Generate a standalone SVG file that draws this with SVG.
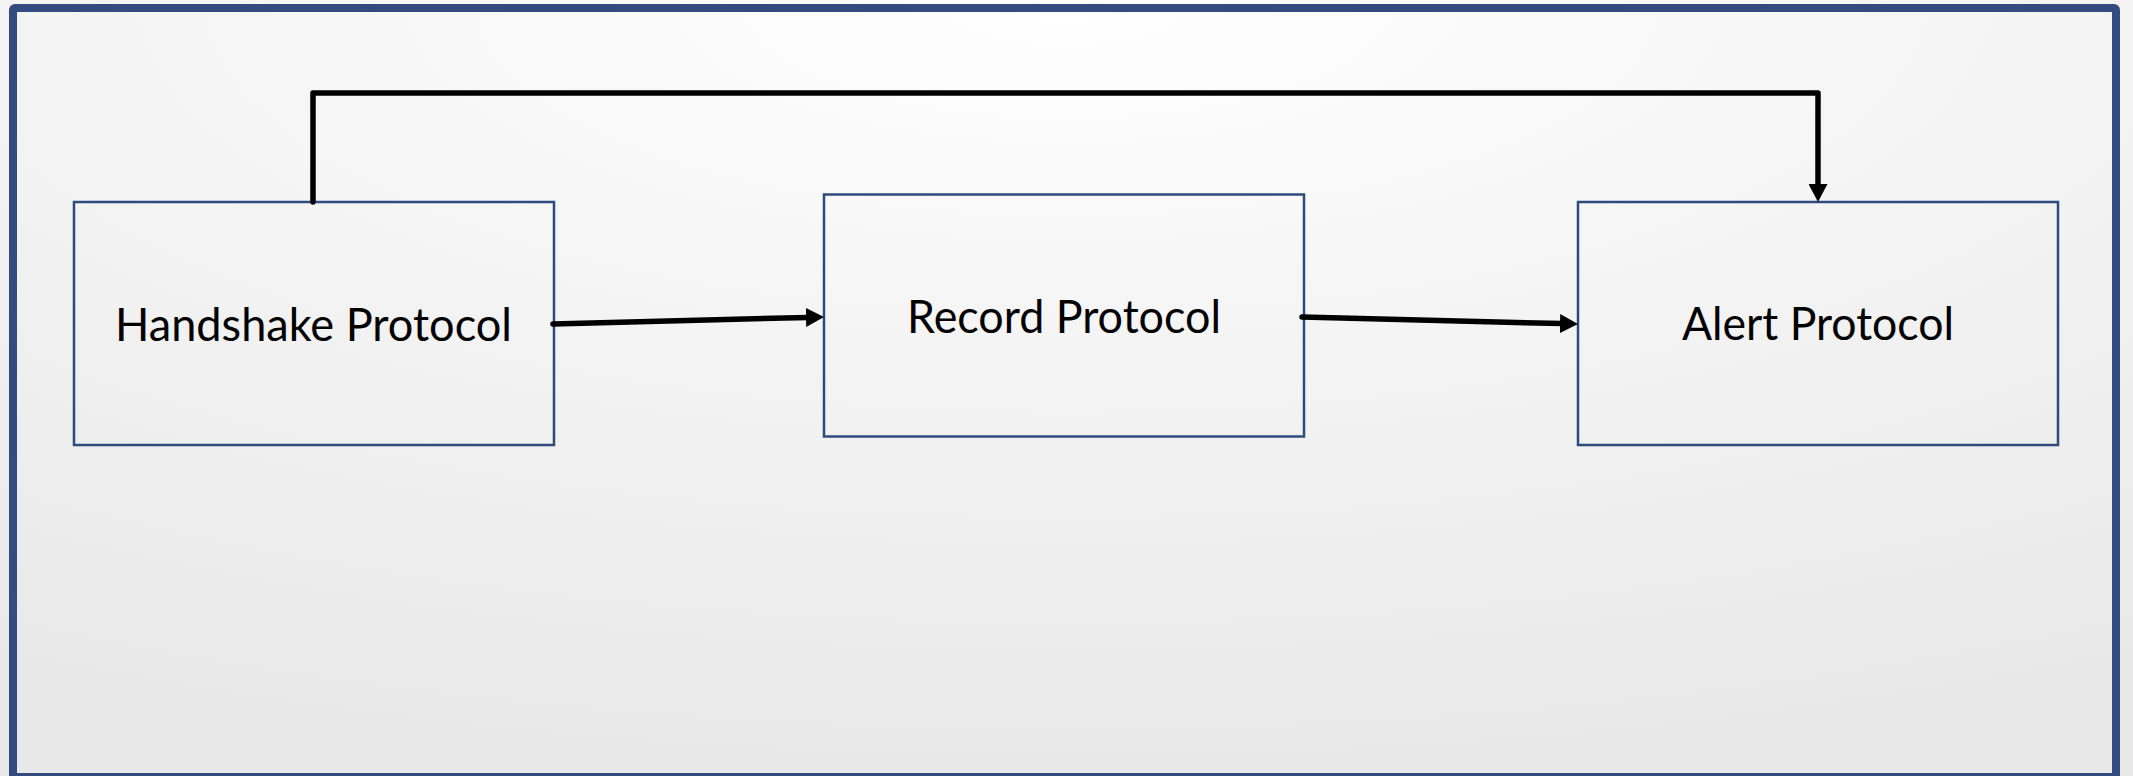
<svg xmlns="http://www.w3.org/2000/svg" width="2133" height="776" viewBox="0 0 2133 776">
  <style>
    .node rect { fill: none; stroke: #2f4a7e; stroke-width: 2.5; }
    .node text { font-family: Lato, "Open Sans", "Liberation Sans", sans-serif; font-size: 46px; fill: #000; text-anchor: middle; }
    .conn { fill: none; stroke: #000; stroke-width: 5.5; }
  </style>
  <defs>
    <radialGradient id="bg" cx="0.5" cy="0" r="1" fx="0.5" fy="0">
      <stop offset="0" stop-color="#ffffff"/>
      <stop offset="0.5" stop-color="#f3f3f3"/>
      <stop offset="1" stop-color="#e8e8e8"/>
    </radialGradient>
    <marker id="arrow" markerUnits="userSpaceOnUse" markerWidth="19" markerHeight="19" refX="2" refY="9.5" orient="auto" viewBox="0 0 19 19">
      <path d="M0,0 L18,9.5 L0,19 z" fill="#000"/>
    </marker>
  </defs>
  <rect x="0" y="0" width="2133" height="776" fill="url(#bg)"/>
  <rect x="13" y="8" width="2103" height="769" fill="none" stroke="#334b7e" stroke-width="8" rx="2"/>

  <g id="handshake" class="node">
    <rect x="74" y="202" width="480" height="243"/>
    <text x="313.5" y="340.5" textLength="397" lengthAdjust="spacingAndGlyphs">Handshake Protocol</text>
  </g>
  <g id="record" class="node">
    <rect x="824" y="194.5" width="480" height="242"/>
    <text x="1064" y="333.3" textLength="314" lengthAdjust="spacingAndGlyphs">Record Protocol</text>
  </g>
  <g id="alert" class="node">
    <rect x="1578" y="202" width="480" height="243"/>
    <text x="1818" y="340" textLength="272" lengthAdjust="spacingAndGlyphs">Alert Protocol</text>
  </g>

  <g id="connectors">
    <path class="conn" d="M313,202 V93 H1818 V186" stroke-linecap="round" stroke-linejoin="round" marker-end="url(#arrow)"/>
    <path class="conn" d="M553,324 L808,317.4" stroke-linecap="round" marker-end="url(#arrow)"/>
    <path class="conn" d="M1302,317 L1562,323.6" stroke-linecap="round" marker-end="url(#arrow)"/>
  </g>
</svg>
